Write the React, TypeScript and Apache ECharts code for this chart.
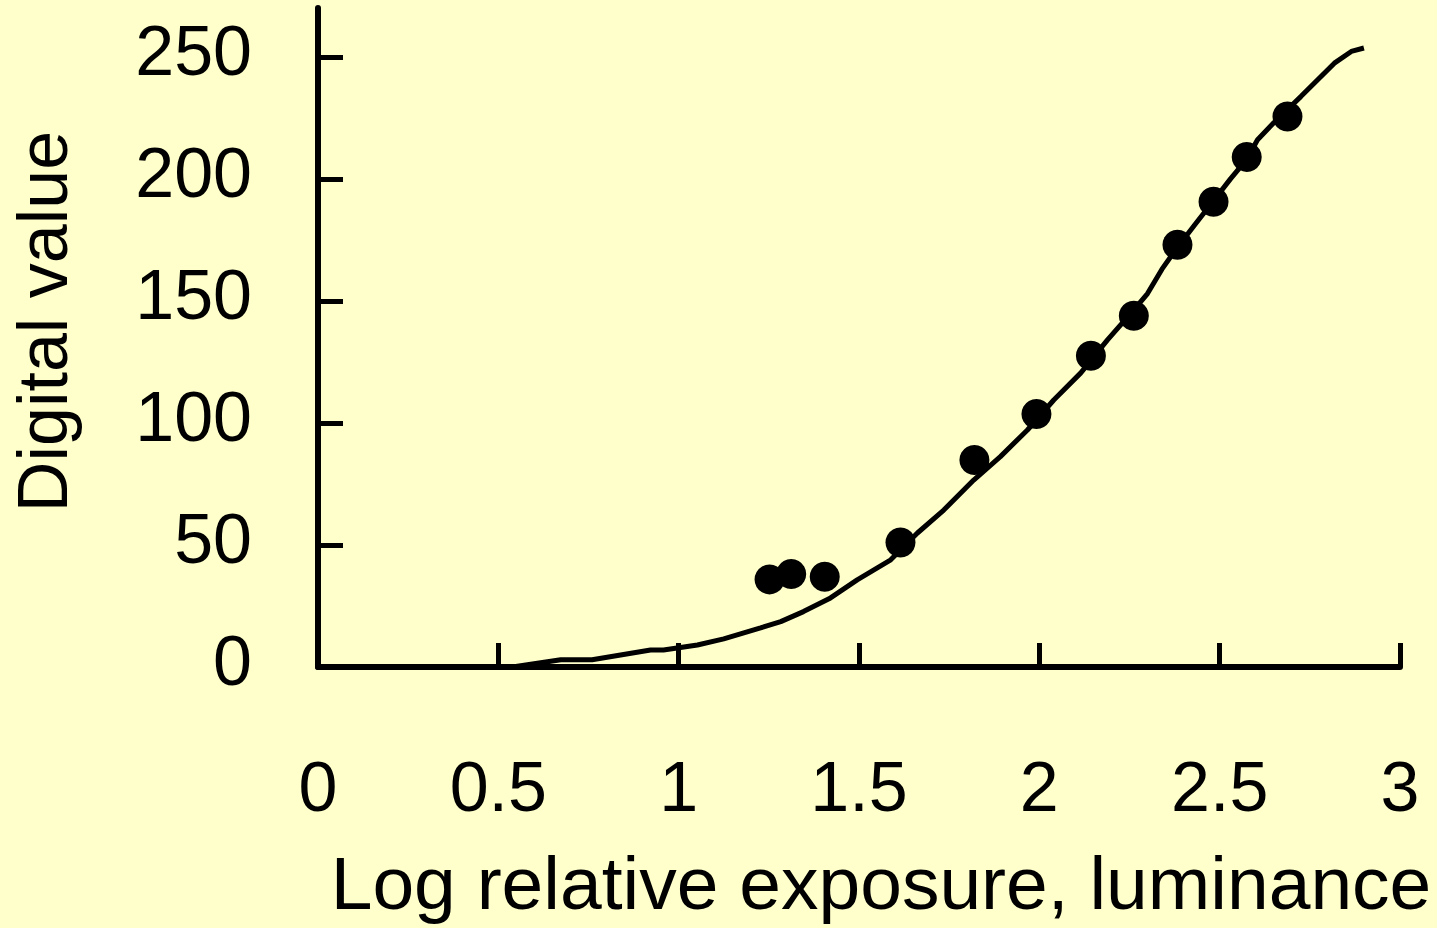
import React, { useEffect, useRef } from "react";
import * as echarts from "echarts";

const xTitle = "Log relative exposure, luminance";
const yTitle = "Digital value";
const yTickValues = [0, 50, 100, 150, 200, 250];

// measured points (log exposure, digital value)
const pointX = [1.252, 1.312, 1.405, 1.615, 1.82, 1.992, 2.143, 2.262, 2.383, 2.483, 2.575, 2.688];
const pointY = [35.9, 38.1, 37.0, 51.0, 84.8, 103.7, 127.5, 143.9, 173.0, 190.6, 209.0, 225.5];

// fitted response curve
const curveX = [0.464, 0.539, 0.673, 0.76, 0.922, 0.958, 1.052, 1.125, 1.227, 1.283, 1.346, 1.421, 1.495, 1.588, 1.662, 1.735, 1.818, 1.892, 1.967, 2.04, 2.115, 2.189, 2.262, 2.3, 2.34, 2.383, 2.43, 2.483, 2.53, 2.575, 2.605, 2.65, 2.725, 2.818, 2.865, 2.9];
const curveY = [0, 0, 3, 3, 7, 7, 9, 11.5, 16, 18.6, 22.7, 28.3, 35.7, 43.9, 54.9, 64.3, 76.6, 86.2, 97.1, 109.4, 120.5, 134, 146.3, 153, 163, 172, 181, 191, 200, 208, 216, 223, 233.7, 247.4, 252.2, 253.6];

export default function App() {
  const ref = useRef<HTMLDivElement>(null);
  useEffect(() => {
    if (!ref.current) return;
    const chart = echarts.init(ref.current, undefined, { renderer: "svg" });
    const font = "'Liberation Sans', Arial, Helvetica, sans-serif";
    chart.setOption({
      animation: false,
      backgroundColor: "#FFFFCC",
      textStyle: { fontFamily: font, color: "#000" },
      grid: { left: 317, right: 37, top: 8, bottom: 261, containLabel: false },
      xAxis: {
        type: "value",
        min: 0,
        max: 3,
        interval: 0.5,
        name: xTitle,
        nameLocation: "middle",
        nameGap: 178,
        nameTextStyle: { fontSize: 75, color: "#000", fontFamily: font, padding: [0, 0, 0, 44] },
        axisLine: { lineStyle: { color: "#000", width: 6 } },
        axisTick: { inside: true, length: 24, lineStyle: { color: "#000", width: 5 } },
        axisLabel: { fontSize: 70, color: "#000", fontFamily: font, margin: 85 },
        splitLine: { show: false },
      },
      yAxis: {
        type: "value",
        min: 0,
        max: 270,
        name: yTitle,
        nameLocation: "middle",
        nameRotate: 90,
        nameGap: 240,
        nameTextStyle: { fontSize: 70, color: "#000", fontFamily: font, padding: [0, 0, 0, 32] },
        axisLine: { lineStyle: { color: "#000", width: 6 } },
        axisTick: { inside: true, length: 25, customValues: yTickValues, lineStyle: { color: "#000", width: 5 } },
        axisLabel: {
          fontSize: 70,
          color: "#000",
          fontFamily: font,
          margin: 66,
          customValues: yTickValues,
          formatter: "{v|{value}}",
          rich: { v: { fontSize: 70, color: "#000", fontFamily: font, padding: [0, 0, 12, 0] } },
        },
        splitLine: { show: false },
      },
      series: [
        {
          type: "line",
          data: curveX.map((x, i) => [x, curveY[i]]),
          showSymbol: false,
          symbol: "none",
          lineStyle: { color: "#000", width: 5 },
          z: 2,
        },
        {
          type: "scatter",
          data: pointX.map((x, i) => [x, pointY[i]]),
          symbol: "circle",
          symbolSize: 30,
          itemStyle: { color: "#000", opacity: 1 },
          z: 3,
        },
      ],
    });
    return () => chart.dispose();
  }, []);
  return (
    <div
      ref={ref}
      style={{ position: "fixed", left: 0, top: 0, width: 1437, height: 928 }}
    />
  );
}
